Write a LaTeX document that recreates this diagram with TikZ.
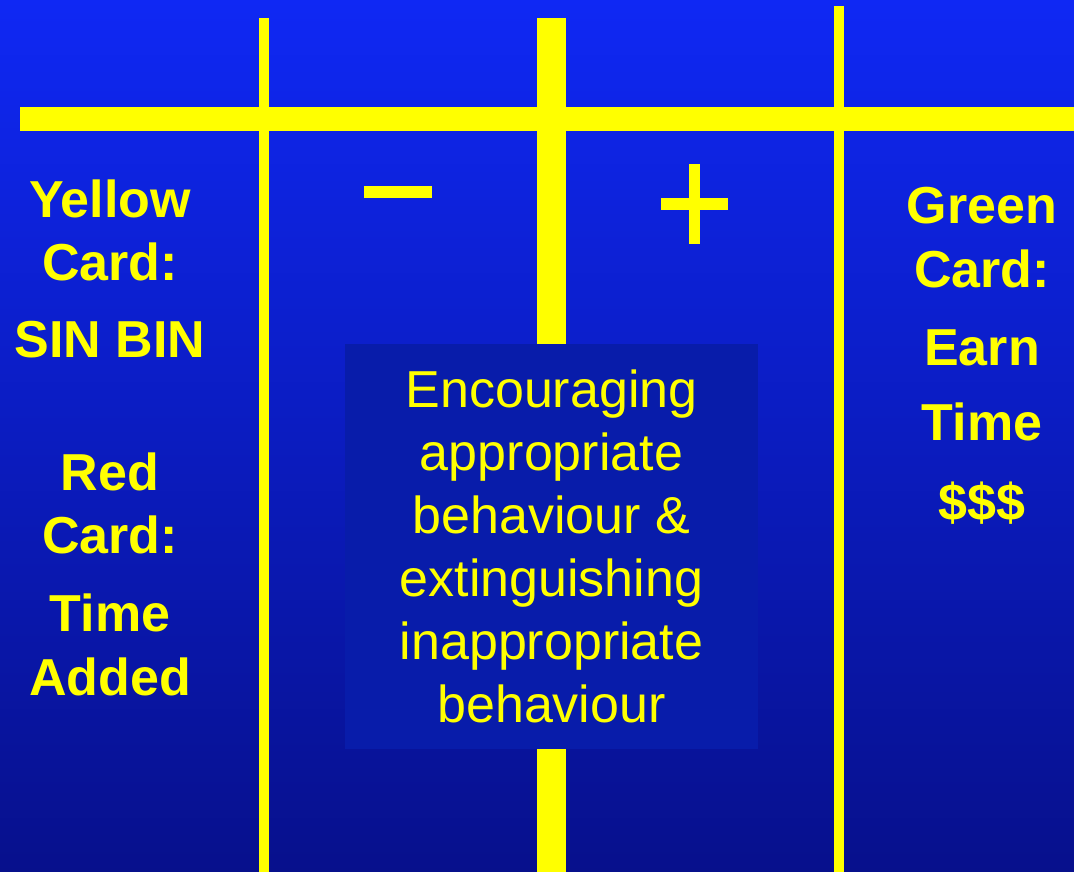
\documentclass[tikz,border=0pt]{standalone}
\usepackage{fontspec}
\setmainfont{Liberation Sans}
\usetikzlibrary{positioning}
\definecolor{gelb}{HTML}{FFFF00}
\definecolor{blauoben}{HTML}{0F28F4}
\definecolor{blaumitte}{HTML}{102DEC}
\definecolor{blauunten}{HTML}{07108C}
\definecolor{kasten}{HTML}{081CAA}
\newcommand{\gross}{\fontsize{52}{63}\selectfont}

\begin{document}
\begin{tikzpicture}[x=1pt,y=-1pt,
	seite/.style={text=gelb,font=\gross\bfseries,inner sep=0pt,anchor=base},
	mitte/.style={text=gelb,font=\gross,align=center,inner sep=0pt}]

\useasboundingbox (0,0) rectangle (1074,872);
\shade[top color=blauoben, middle color=blaumitte, bottom color=blauunten]
	(0,0) rectangle (1074,872);

\def\balken#1#2{
	\fill[color=gelb] #1 rectangle #2;
}
\balken{(20,107)}{(1074,131)}
\balken{(259,18)}{(269,872)}
\balken{(537,18)}{(566,872)}
\balken{(834,6)}{(844,872)}
% minus und plus
\balken{(364,186)}{(432,198)}
\balken{(661,198)}{(728,210)}
\balken{(689,164)}{(700,244)}

\fill[color=kasten] (345,344) rectangle (758,749);
\node[mitte] (text) at (551.5,546) {Encouraging\\appropriate\\behaviour \&\\extinguishing\\inappropriate\\behaviour};

\foreach \yy/\wort [count=\i] in {217/Yellow,280/Card:,357/SIN BIN,490/Red,553/Card:,631/Time,695/Added}
	\node[seite] (gelb\i) at (110,\yy) {\wort};
\foreach \yy/\wort [count=\i] in {223/Green,287/Card:,365/Earn,440/Time,520/{\$\$\$}}
	\node[seite] (gruen\i) at (982,\yy) {\wort};

\end{tikzpicture}
\end{document}
